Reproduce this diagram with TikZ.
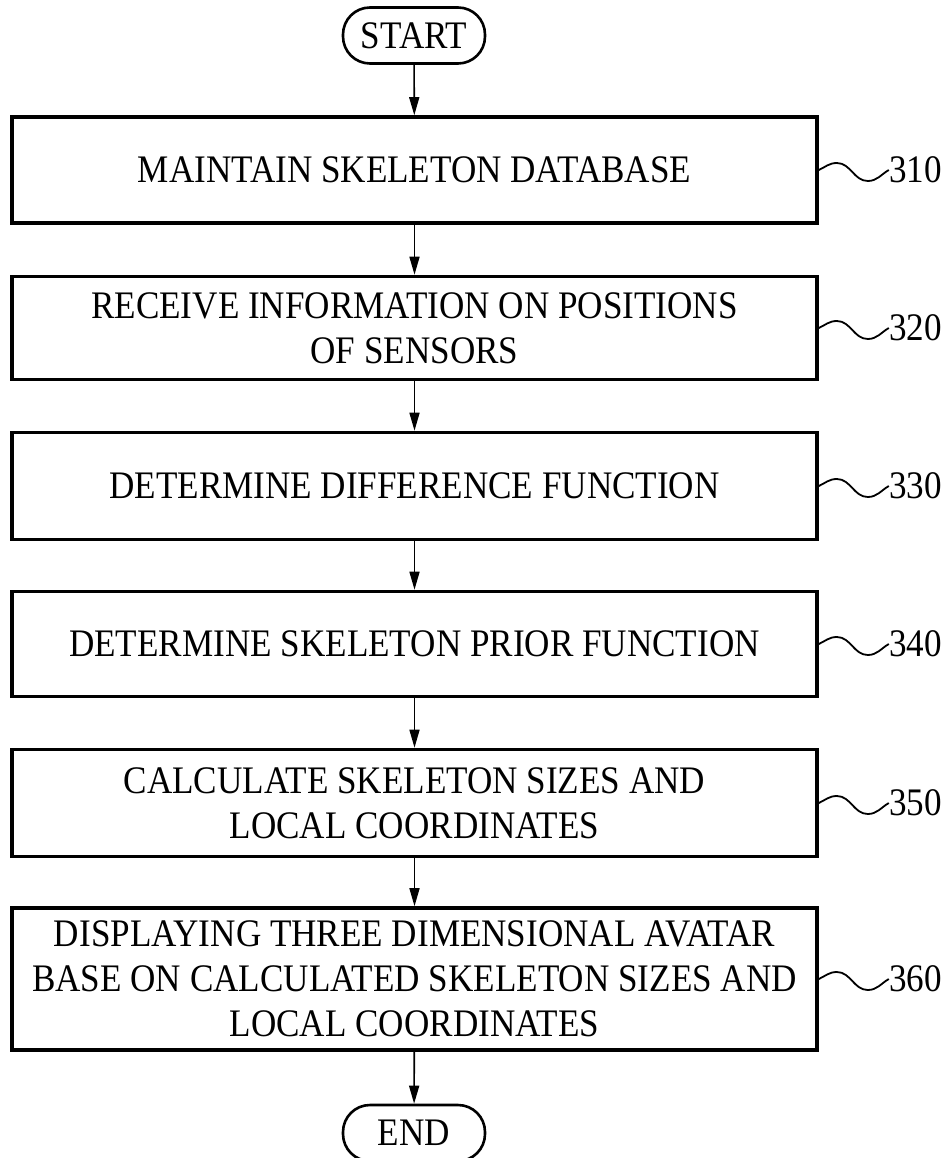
\documentclass[tikz,border=0pt]{standalone}
\usepackage{fontspec}
\setmainfont{Liberation Serif}[FakeStretch=0.9]
\usetikzlibrary{arrows.meta, positioning}

\begin{document}
\begin{tikzpicture}[
                  x = 1pt, y = -1pt,
                  font    = \fontsize{39}{45}\selectfont,
                  stepbox/.style = {draw, line width=3.6pt, minimum width=805pt, align=center, inner sep=0pt},
                  term/.style    = {draw, line width=2.6pt, rounded corners=27pt, minimum width=142pt, minimum height=56pt, inner sep=0pt},
                  flow/.style    = {-{Triangle[length=18pt, width=10pt]}, line width=1.6pt},
                  wave/.style    = {line width=1.8pt},
                  ref/.style     = {anchor=west, inner sep=0pt}
            ]
            \useasboundingbox (0,0) rectangle (947,1158);

            % terminals
            \node[term] (start) at (414,35.5) {START};
            \node[term] (end)   at (414,1133) {END};

            % steps 310 - 360
            \node[stepbox, minimum height=106pt] (b310) at (414.5,170) {MAINTAIN SKELETON DATABASE};
            \node[stepbox, minimum height=103pt] (b320) at (414.5,328) {RECEIVE INFORMATION ON POSITIONS\\OF SENSORS};
            \node[stepbox, minimum height=107pt] (b330) at (414.5,486) {DETERMINE DIFFERENCE FUNCTION};
            \node[stepbox, minimum height=105pt] (b340) at (414.5,644) {DETERMINE SKELETON PRIOR FUNCTION};
            \node[stepbox, minimum height=107pt] (b350) at (414.5,803) {CALCULATE SKELETON SIZES AND\\LOCAL COORDINATES};
            \node[stepbox, minimum height=142pt] (b360) at (414.5,979) {DISPLAYING THREE DIMENSIONAL AVATAR\\BASE ON CALCULATED SKELETON SIZES AND\\LOCAL COORDINATES};

            % flow arrows
            \draw[flow] (start) -- (b310);
            \draw[flow] (b310) -- (b320);
            \draw[flow] (b320) -- (b330);
            \draw[flow] (b330) -- (b340);
            \draw[flow] (b340) -- (b350);
            \draw[flow] (b350) -- (b360);
            \draw[flow] (b360) -- (end);

            % reference numerals with wavy leaders
            \foreach \n in {310,320,330,340,350,360} {
                  \node[ref] (r\n) at ([xshift=70pt]b\n.east) {\n};
                  \draw[wave] (b\n.east) to[out=25,in=180] ++(18,-7)
                        to[out=0,in=180] ++(31,18) to[out=0,in=210] (r\n.west);
            }
\end{tikzpicture}
\end{document}
